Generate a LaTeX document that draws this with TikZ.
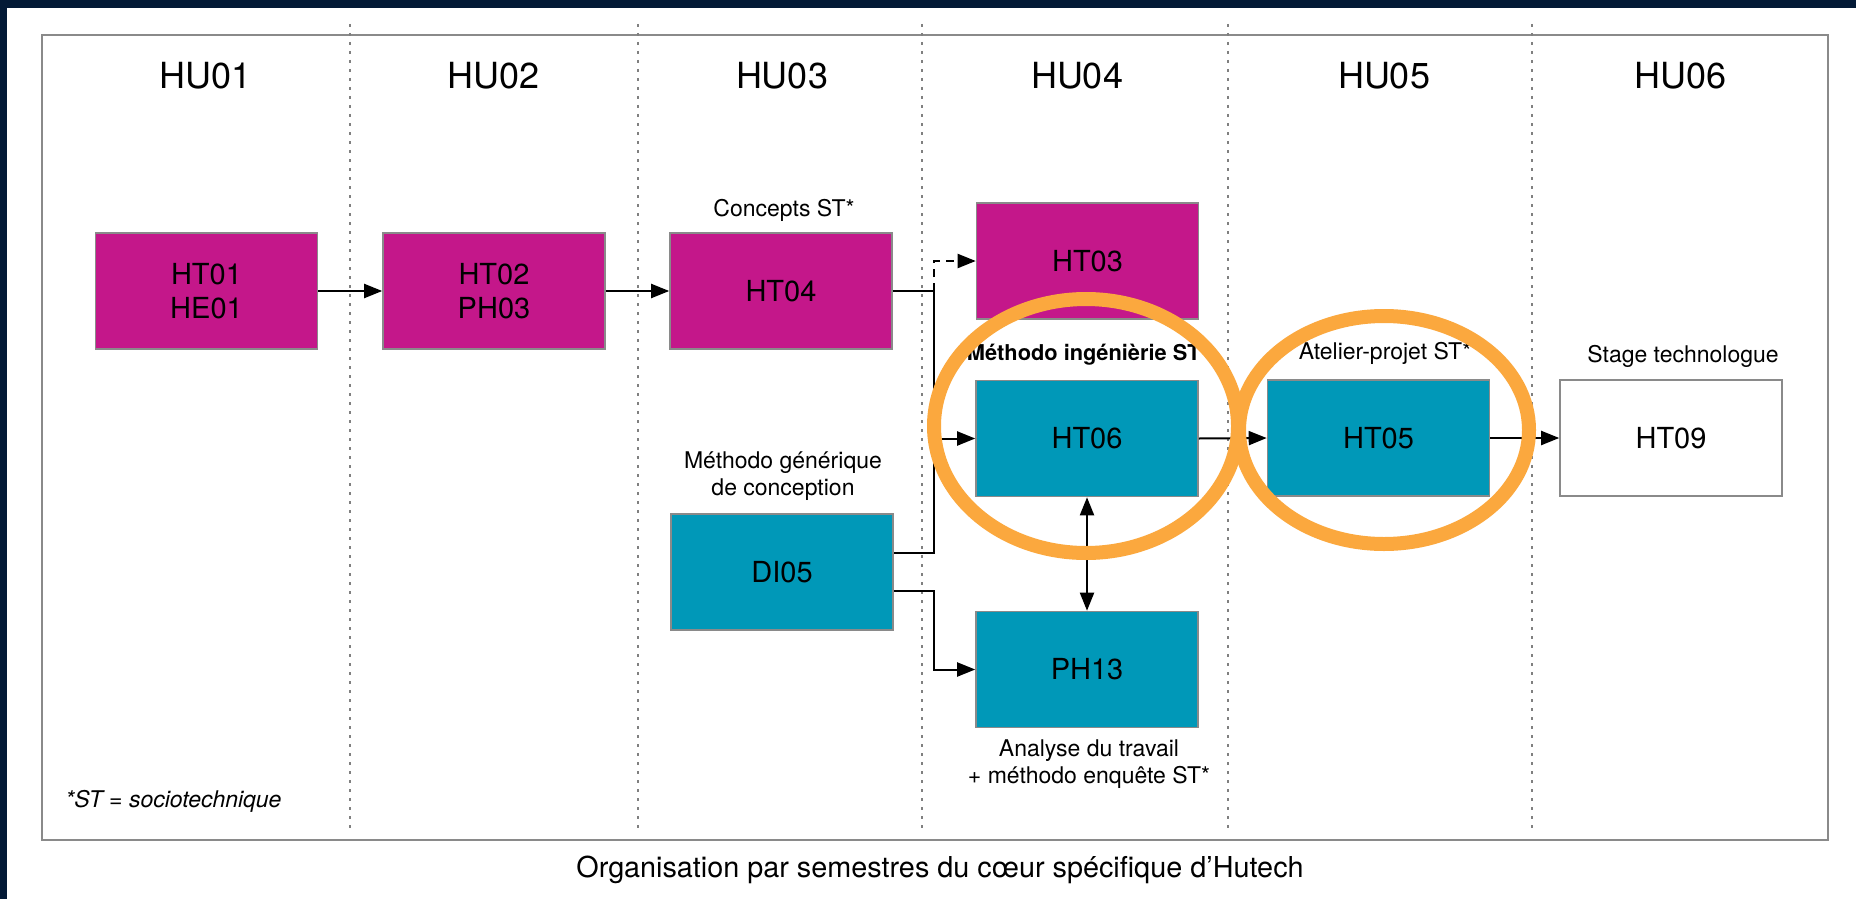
\documentclass[tikz,border=0pt]{standalone}
\usepackage{fontspec}
\setmainfont{TeX Gyre Heros}
\usetikzlibrary{arrows.meta}
\definecolor{navy}{HTML}{031A36}
\definecolor{mag}{HTML}{C4178A}
\definecolor{tealb}{HTML}{0098B8}
\definecolor{orng}{HTML}{FBA83E}
\definecolor{frm}{HTML}{8A8A8A}
\begin{document}
\begin{tikzpicture}[x=0.5pt,y=-0.5pt,
  box/.style={draw=frm, line width=0.8pt, minimum width=111pt, minimum height=58pt,
    font=\fontsize{14.5}{17}\selectfont, align=center, inner sep=0pt},
  magbox/.style={box, fill=mag},
  tealbox/.style={box, fill=tealb},
  whitebox/.style={box, fill=white},
  col/.style={font=\fontsize{18}{20}\selectfont},
  lbl/.style={font=\fontsize{11.5}{13.5}\selectfont, align=center, inner sep=0pt},
  sep/.style={draw=gray, line width=1pt, dash pattern=on 1.5pt off 3pt},
  conn/.style={-{Triangle[length=9pt,width=7pt]}, line width=1pt},
  plain/.style={line width=1pt},
  ring/.style={draw=orng, line width=7pt}]
\useasboundingbox (0,0) rectangle (1856,899);
\fill[white] (0,0) rectangle (1856,899);
\fill[navy] (0,0) rectangle (1856,8);
\fill[navy] (0,0) rectangle (7,899);
% frame
\draw[frm, line width=1.2pt] (42,35) rectangle (1828,840);
% separators
\foreach \xx in {350,638,922,1228,1532} \draw[sep] (\xx,24) -- (\xx,830);
% column headers
\node[col] (hu1) at (206,76) {HU01};
\node[col] (hu2) at (494,76) {HU02};
\node[col] (hu3) at (782,76) {HU03};
\node[col] (hu4) at (1077,76) {HU04};
\node[col] (hu5) at (1384,76) {HU05};
\node[col] (hu6) at (1680,76) {HU06};
% boxes
\node[magbox] (HT01) at (206.5,291) {HT01\\HE01};
\node[magbox] (HT02) at (494,291) {HT02\\PH03};
\node[magbox] (HT04) at (781,291) {HT04};
\node[magbox] (HT03) at (1087.5,261) {HT03};
\node[tealbox] (HT06) at (1087,438.5) {HT06};
\node[tealbox] (PH13) at (1087,669.5) {PH13};
\node[tealbox] (DI05) at (782,572) {DI05};
\node[tealbox] (HT05) at (1378.5,438) {HT05};
\node[whitebox] (HT09) at (1671,438) {HT09};
% labels
\node[lbl] (lconc) at (784,210) {Concepts ST*};
\node[lbl] (lgen) at (783,476) {Méthodo générique\\de conception};
\node[lbl, font=\fontsize{10.9}{13}\selectfont\bfseries] (ling) at (1088,355) {Méthodo ingénièrie ST*};
\node[lbl] (latel) at (1385,353) {Atelier-projet ST*};
\node[lbl] (lstage) at (1683,356) {Stage technologue};
\node[lbl] (lanal) at (1089,764) {Analyse du travail\\+ méthodo enquête ST*};
\node[lbl, anchor=west, font=\fontsize{11.5}{13.5}\selectfont\itshape] (lfoot) at (65,801) {*ST = sociotechnique};
\node[lbl, font=\fontsize{14.4}{16}\selectfont] (lcap) at (940,870) {Organisation par semestres du cœur spécifique d’Hutech};
% connectors
\coordinate (j) at (934,291);
\draw[conn] (HT01.east) -- (HT02.west);
\draw[conn] (HT02.east) -- (HT04.west);
\draw[plain] (HT04.east) -- (j);
\draw[conn, dash pattern=on 4pt off 3pt] (j) |- (HT03.west);
\coordinate (d1) at ([yshift=9.5pt]DI05.east);
\coordinate (d2) at ([yshift=-9.5pt]DI05.east);
\draw[plain] (j) |- (d1);
\draw[conn] (j |- HT06.west) -- (HT06.west);
\draw[conn] (d2) -- (d2 -| j) |- (PH13.west);
\draw[{Triangle[length=9pt,width=7pt]}-{Triangle[length=9pt,width=7pt]}, line width=1pt] (HT06.south) -- (PH13.north);
\draw[conn] (HT06.east) -- (HT05.west);
\draw[conn] (HT05.east) -- (HT09.west);
% highlight rings
\draw[ring] (1086,426) ellipse [x radius=76pt, y radius=63.5pt];
\draw[ring] (1384,430) ellipse [x radius=72.5pt, y radius=57pt];
\end{tikzpicture}
\end{document}
